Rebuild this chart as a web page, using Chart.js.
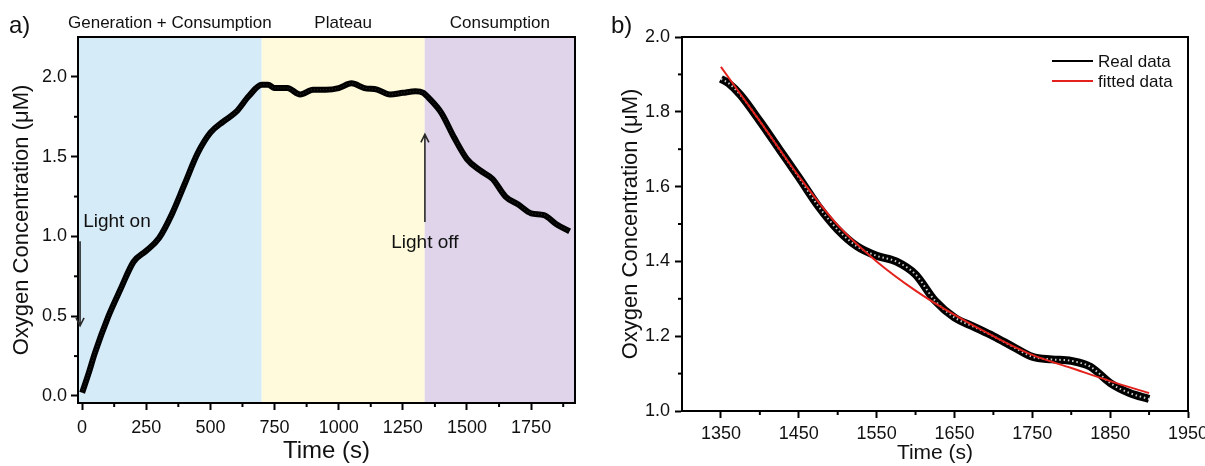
<!DOCTYPE html>
<html>
<head>
<meta charset="utf-8">
<script src="https://cdn.jsdelivr.net/npm/chart.js@4.4.0/dist/chart.umd.min.js"></script>
<style>
    html, body { margin: 0; padding: 0; background: #fff; overflow: hidden; }
    #wrap { position: relative; width: 1205px; height: 466px; }
    #boxA { position: absolute; left: 0; top: 0; }
    #boxB { position: absolute; left: 600px; top: 0; }
</style>
</head>
<body>
<div id="wrap">
    <div id="boxA"><canvas id="chartA" width="600" height="466"></canvas></div>
    <div id="boxB"><canvas id="chartB" width="605" height="466"></canvas></div>
</div>
<script>
// full run: light on at t=0, light off at ~1335 s
const timeA = [0, 25, 50, 100, 150, 200, 250, 300, 350, 400, 450, 500, 550, 600, 650, 700, 725, 750, 800, 850, 900, 950, 1000, 1050, 1100, 1150, 1200, 1250, 1300, 1330, 1350, 1400, 1450, 1500, 1550, 1600, 1650, 1700, 1750, 1800, 1850, 1900];
const oxygenA = [0.02, 0.14, 0.27, 0.49, 0.67, 0.84, 0.91, 0.99, 1.14, 1.33, 1.52, 1.65, 1.72, 1.78, 1.88, 1.95, 1.95, 1.93, 1.93, 1.89, 1.92, 1.92, 1.93, 1.96, 1.93, 1.92, 1.89, 1.90, 1.91, 1.90, 1.87, 1.775, 1.62, 1.485, 1.415, 1.36, 1.25, 1.20, 1.145, 1.134, 1.075, 1.032];

// consumption phase only, with fit
const timeB = [1350, 1360, 1375, 1400, 1425, 1450, 1475, 1500, 1525, 1550, 1575, 1600, 1625, 1650, 1675, 1700, 1725, 1750, 1775, 1800, 1825, 1850, 1875, 1900];
const oxygenB = [1.888, 1.876, 1.845, 1.775, 1.70, 1.625, 1.548, 1.485, 1.44, 1.415, 1.40, 1.365, 1.295, 1.25, 1.225, 1.20, 1.172, 1.145, 1.138, 1.134, 1.118, 1.075, 1.048, 1.032];
const timeFit = [1350, 1400, 1450, 1500, 1550, 1600, 1650, 1700, 1750, 1800, 1850, 1900];
const fitB = [1.92, 1.775, 1.628, 1.497, 1.40, 1.322, 1.257, 1.20, 1.15, 1.115, 1.08, 1.048];

const phaseNames = ["Generation + Consumption", "Plateau", "Consumption"];
const phaseEdges = [-16, 700, 1335, 1921];
const phaseColors = ["#d6ebf8", "#fefadb", "#dfd4e9"];

const xTicksA = [0, 250, 500, 750, 1000, 1250, 1500, 1750];
const xMinorA = [125, 375, 625, 875, 1125, 1375, 1625, 1875];
const yTicksA = [0, 0.5, 1.0, 1.5, 2.0];
const yMinorA = [0.25, 0.75, 1.25, 1.75];
const xTicksB = [1350, 1450, 1550, 1650, 1750, 1850, 1950];
const xMinorB = [1400, 1500, 1600, 1700, 1800, 1900];
const yTicksB = [1.0, 1.2, 1.4, 1.6, 1.8, 2.0];
const yMinorB = [1.1, 1.3, 1.5, 1.7, 1.9];

const FONT = "'Liberation Sans', Arial, sans-serif";
const INK = "#111";

function pts(xs, ys) {
    return xs.map((x, i) => ({ x: x, y: ys[i] }));
}

function drawArrow(ctx, x, y0, y1) {
    const dir = y1 > y0 ? 1 : -1;
    ctx.save();
    ctx.strokeStyle = "#2a2a2a";
    ctx.lineWidth = 1.6;
    ctx.beginPath();
    ctx.moveTo(x, y0);
    ctx.lineTo(x, y1);
    ctx.moveTo(x - 4, y1 - dir * 8);
    ctx.lineTo(x, y1);
    ctx.lineTo(x + 4, y1 - dir * 8);
    ctx.stroke();
    ctx.restore();
}

// backgrounds, frame, minor ticks and the loose text of each panel
const panelDecor = {
    id: "panelDecor",
    beforeDatasetsDraw(chart, args, opts) {
        if (!opts.phases) return;
        const { ctx, chartArea: a, scales: { x } } = chart;
        ctx.save();
        for (let i = 0; i < phaseNames.length; i++) {
            const x0 = Math.max(a.left, x.getPixelForValue(phaseEdges[i]));
            const x1 = Math.min(a.right, x.getPixelForValue(phaseEdges[i + 1]));
            ctx.fillStyle = phaseColors[i];
            ctx.fillRect(x0, a.top, x1 - x0, a.bottom - a.top);
        }
        ctx.restore();
    },
    afterDraw(chart, args, opts) {
        const { ctx, chartArea: a, scales: { x, y } } = chart;
        ctx.save();

        // minor ticks
        ctx.strokeStyle = "#000";
        ctx.lineWidth = 2;
        opts.xMinor.forEach(v => {
            const p = x.getPixelForValue(v);
            ctx.beginPath();
            ctx.moveTo(p, a.bottom);
            ctx.lineTo(p, a.bottom + 4);
            ctx.stroke();
        });
        opts.yMinor.forEach(v => {
            const p = y.getPixelForValue(v);
            ctx.beginPath();
            ctx.moveTo(a.left, p);
            ctx.lineTo(a.left - 4, p);
            ctx.stroke();
        });

        // frame
        ctx.strokeRect(a.left, a.top, a.right - a.left, a.bottom - a.top);

        ctx.fillStyle = INK;
        ctx.textBaseline = "middle";

        // panel letter
        ctx.font = "24px " + FONT;
        ctx.textAlign = "left";
        ctx.fillText(opts.panel, opts.panelX, 26);

        if (opts.phases) {
            ctx.font = "17px " + FONT;
            ctx.textAlign = "center";
            for (let i = 0; i < phaseNames.length; i++) {
                const x0 = Math.max(a.left, x.getPixelForValue(phaseEdges[i]));
                const x1 = Math.min(a.right, x.getPixelForValue(phaseEdges[i + 1]));
                ctx.fillText(phaseNames[i], (x0 + x1) / 2, 23);
            }
        }

        (opts.notes || []).forEach(n => {
            ctx.font = "19px " + FONT;
            ctx.textAlign = n.align;
            ctx.fillText(n.text, x.getPixelForValue(n.t), y.getPixelForValue(n.v));
        });
        (opts.arrows || []).forEach(r => {
            drawArrow(ctx, x.getPixelForValue(r.t), y.getPixelForValue(r.from), y.getPixelForValue(r.to));
        });

        if (opts.legend) {
            ctx.font = "17px " + FONT;
            ctx.textAlign = "left";
            opts.legend.forEach((item, i) => {
                const ly = a.top + 24 + i * 20;
                ctx.strokeStyle = item.color;
                ctx.lineWidth = 2;
                ctx.beginPath();
                ctx.moveTo(a.right - 136, ly);
                ctx.lineTo(a.right - 95, ly);
                ctx.stroke();
                ctx.fillText(item.text, a.right - 90, ly + 1);
            });
        }
        ctx.restore();
    },
};

function axis(opts) {
    const horizontal = opts.horizontal;
    return {
        type: "linear",
        min: opts.min,
        max: opts.max,
        afterBuildTicks: s => { s.ticks = opts.ticks.map(v => ({ value: v })); },
        afterFit: s => {
            if (horizontal) {
                s.height = opts.size;
                // let the last label run past the frame instead of shrinking the plot
                s.paddingLeft = 0;
                s.paddingRight = 0;
            } else {
                s.width = opts.size;
                s.paddingTop = 0;
                s.paddingBottom = 0;
            }
        },
        grid: {
            drawOnChartArea: false,
            drawTicks: true,
            tickLength: 7,
            tickWidth: 2,
            tickColor: "#000",
        },
        border: { display: true, color: "#000", width: 2 },
        ticks: {
            autoSkip: false,
            maxRotation: 0,
            color: INK,
            padding: opts.pad,
            font: { family: FONT, size: opts.tickSize },
            callback: v => horizontal ? String(v) : v.toFixed(1),
        },
        title: {
            display: true,
            text: opts.title,
            color: INK,
            font: { family: FONT, size: opts.titleSize },
            padding: opts.titlePad,
        },
    };
}

Chart.defaults.font.family = FONT;

// a) whole experiment
new Chart(document.getElementById("chartA").getContext("2d"), {
    type: "line",
    data: {
        datasets: [
            {
                data: pts(timeA, oxygenA),
                borderColor: "rgba(255,255,255,0.18)",
                borderWidth: 1,
                borderDash: [1, 2],
                pointRadius: 0,
                cubicInterpolationMode: "monotone",
                order: 0,
            },
            {
                label: "Oxygen",
                data: pts(timeA, oxygenA),
                borderColor: "#000",
                borderWidth: 6,
                pointRadius: 0,
                cubicInterpolationMode: "monotone",
                order: 1,
            },
        ],
    },
    options: {
        responsive: false,
        animation: false,
        layout: { padding: { top: 37, right: 25, left: 0, bottom: 0 } },
        scales: {
            x: axis({ horizontal: true, min: -16, max: 1921, ticks: xTicksA, size: 63, pad: 7,
                tickSize: 18, title: "Time (s)", titleSize: 24, titlePad: { top: 0, bottom: 0 } }),
            y: axis({ horizontal: false, min: -0.044, max: 2.25, ticks: yTicksA, size: 78, pad: 4,
                tickSize: 18, title: "Oxygen Concentration (\u03bcM)", titleSize: 22, titlePad: { top: 9, bottom: 0 } }),
        },
        plugins: {
            legend: { display: false },
            tooltip: { enabled: false },
            panelDecor: {
                panel: "a)",
                panelX: 9,
                phases: true,
                xMinor: xMinorA,
                yMinor: yMinorA,
                notes: [
                    { text: "Light on", t: 4, v: 1.09, align: "left" },
                    { text: "Light off", t: 1336, v: 0.96, align: "center" },
                ],
                arrows: [
                    { t: -8, from: 0.97, to: 0.44 },
                    { t: 1336, from: 1.09, to: 1.64 },
                ],
            },
        },
    },
    plugins: [panelDecor],
});

// b) consumption phase with fitted curve
new Chart(document.getElementById("chartB").getContext("2d"), {
    type: "line",
    data: {
        datasets: [
            {
                label: "fitted data",
                data: pts(timeFit, fitB),
                borderColor: "#e3221d",
                borderWidth: 2,
                pointRadius: 0,
                cubicInterpolationMode: "monotone",
                order: 0,
            },
            {
                data: pts(timeB, oxygenB),
                borderColor: "rgba(255,255,255,0.8)",
                borderWidth: 2,
                borderDash: [1.5, 2.8],
                pointRadius: 0,
                cubicInterpolationMode: "monotone",
                order: 1,
            },
            {
                label: "Real data",
                data: pts(timeB, oxygenB),
                borderColor: "#000",
                borderWidth: 8,
                pointRadius: 0,
                cubicInterpolationMode: "monotone",
                order: 2,
            },
        ],
    },
    options: {
        responsive: false,
        animation: false,
        layout: { padding: { top: 37, right: 17, left: 0, bottom: 0 } },
        scales: {
            x: axis({ horizontal: true, min: 1300, max: 1950, ticks: xTicksB, size: 55, pad: 5,
                tickSize: 18, title: "Time (s)", titleSize: 21, titlePad: { top: 0, bottom: 0 } }),
            y: axis({ horizontal: false, min: 1.0, max: 2.0, ticks: yTicksB, size: 82, pad: 5,
                tickSize: 18, title: "Oxygen Concentration (\u03bcM)", titleSize: 22, titlePad: { top: 18, bottom: 0 } }),
        },
        plugins: {
            legend: { display: false },
            tooltip: { enabled: false },
            panelDecor: {
                panel: "b)",
                panelX: 11,
                xMinor: xMinorB,
                yMinor: yMinorB,
                legend: [
                    { text: "Real data", color: "#000" },
                    { text: "fitted data", color: "#e3221d" },
                ],
            },
        },
    },
    plugins: [panelDecor],
});
</script>
</body>
</html>
